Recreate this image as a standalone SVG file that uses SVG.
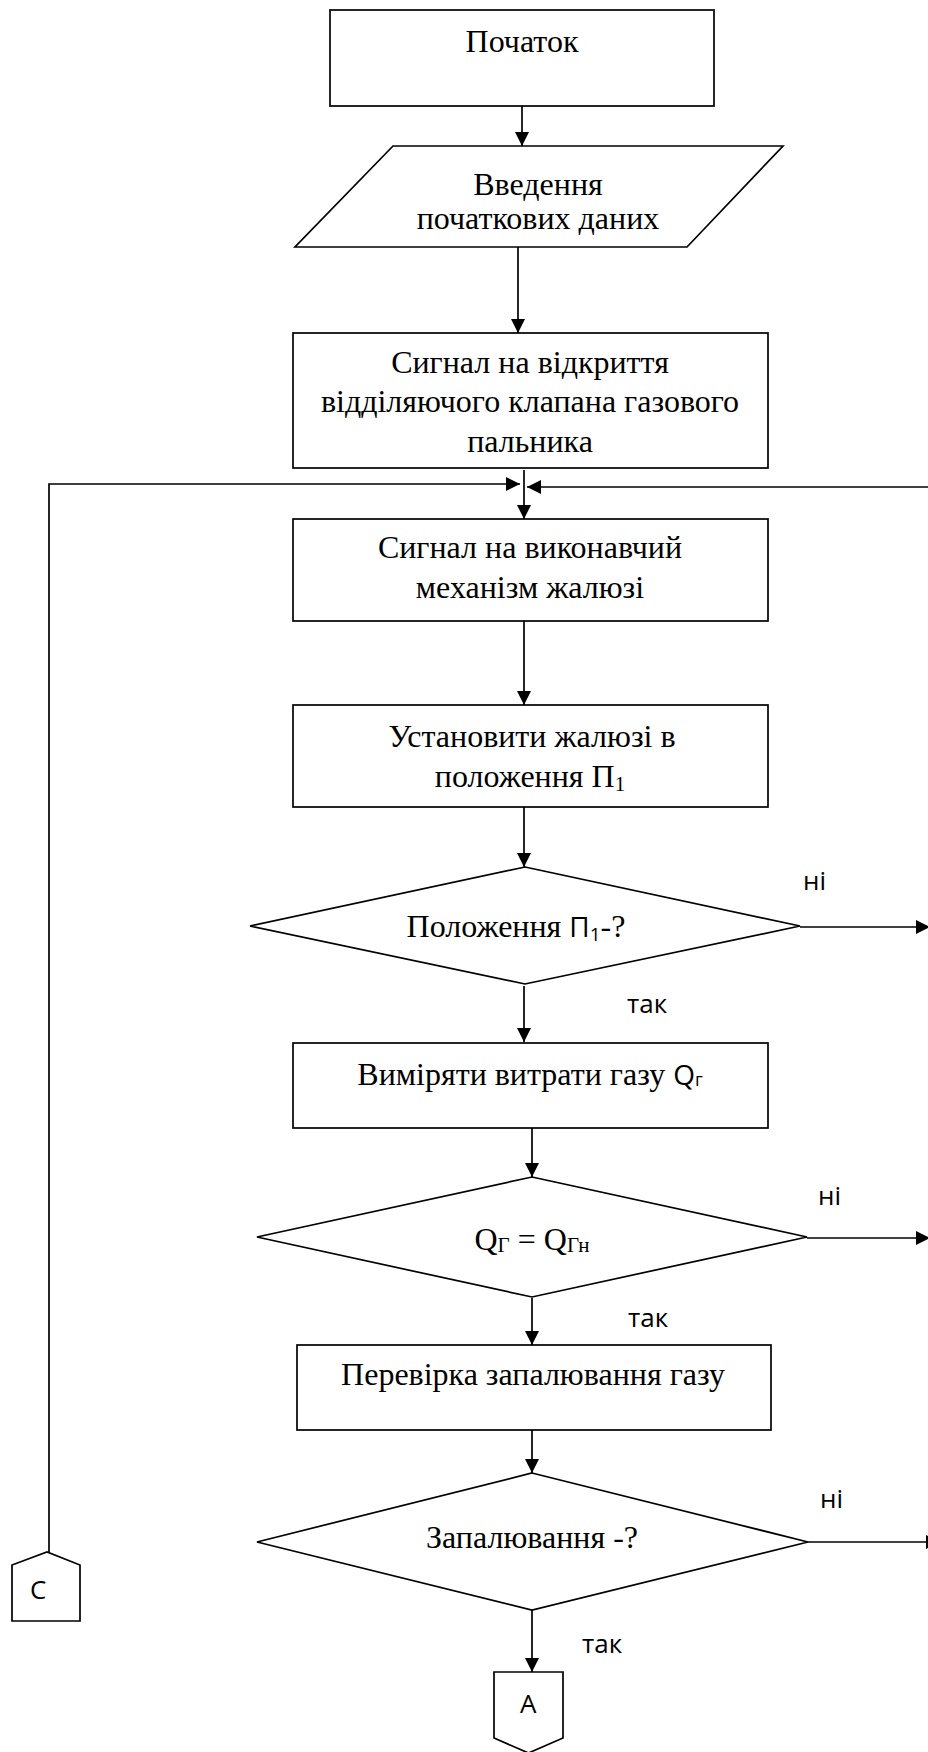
<svg xmlns="http://www.w3.org/2000/svg" width="928" height="1752" viewBox="0 0 928 1752">
  <style>
    .shape { fill: #fff; stroke: #000; stroke-width: 1.7; }
    .link { fill: none; stroke: #000; stroke-width: 1.7; }
    .t { font-family: "Liberation Serif", "Times New Roman", serif; font-size: 32px; fill: #000; text-anchor: middle; }
    .s { font-family: "Open Sans", "Noto Sans", sans-serif; font-size: 26px; fill: #000; }
    .ss { font-family: "Open Sans", "Noto Sans", sans-serif; }
  </style>
  <defs>
    <marker id="arrow" markerUnits="userSpaceOnUse" markerWidth="15" markerHeight="14" refX="14" refY="7" orient="auto">
      <path d="M0,0 L14,7 L0,14 z" fill="#000"/>
    </marker>
  </defs>
  <rect width="928" height="1752" fill="#fff"/>

  <!-- connectors -->
  <g id="connectors">
    <path class="link" d="M522,106 V146" marker-end="url(#arrow)"/>
    <path class="link" d="M518,247 V333" marker-end="url(#arrow)"/>
    <path class="link" d="M524,470 V519" marker-end="url(#arrow)"/>
    <path class="link" d="M49,1552 V484 H520" marker-end="url(#arrow)"/>
    <path class="link" d="M930,487 H527" marker-end="url(#arrow)"/>
    <path class="link" d="M524,621 V705" marker-end="url(#arrow)"/>
    <path class="link" d="M524,807 V867" marker-end="url(#arrow)"/>
    <path class="link" d="M524,986 V1042" marker-end="url(#arrow)"/>
    <path class="link" d="M800,927 H930" marker-end="url(#arrow)"/>
    <path class="link" d="M532,1128 V1177" marker-end="url(#arrow)"/>
    <path class="link" d="M532,1298 V1345" marker-end="url(#arrow)"/>
    <path class="link" d="M807,1238 H930" marker-end="url(#arrow)"/>
    <path class="link" d="M532,1430 V1473" marker-end="url(#arrow)"/>
    <path class="link" d="M532,1610 V1672" marker-end="url(#arrow)"/>
    <path class="link" d="M808,1542 H940" marker-end="url(#arrow)"/>
    <g class="s">
      <text x="803" y="890">ні</text>
      <text x="627" y="1013">так</text>
      <text x="818" y="1205">ні</text>
      <text x="628" y="1327">так</text>
      <text x="820" y="1508">ні</text>
      <text x="582" y="1653">так</text>
    </g>
  </g>

  <g id="start">
    <rect class="shape" x="330" y="10" width="384" height="96"/>
    <text class="t" x="522" y="52">Початок</text>
  </g>

  <g id="input">
    <polygon class="shape" points="393,146 783,146 687,247 295,247"/>
    <text class="t" x="538" y="195" font-size="30">Введення</text>
    <text class="t" x="538" y="229" font-size="30">початкових даних</text>
  </g>

  <g id="open-valve">
    <rect class="shape" x="293" y="333" width="475" height="135"/>
    <text class="t" x="530" y="373">Сигнал на відкриття</text>
    <text class="t" x="530" y="412">відділяючого клапана газового</text>
    <text class="t" x="530" y="452">пальника</text>
  </g>

  <g id="actuator">
    <rect class="shape" x="293" y="519" width="475" height="102"/>
    <text class="t" x="530" y="558">Сигнал на виконавчий</text>
    <text class="t" x="530" y="598">механізм жалюзі</text>
  </g>

  <g id="set-position">
    <rect class="shape" x="293" y="705" width="475" height="102"/>
    <text class="t" x="532" y="747">Установити жалюзі в</text>
    <text class="t" x="530" y="787">положення П<tspan font-size="21" dy="4">1</tspan></text>
  </g>

  <g id="check-position">
    <polygon class="shape" points="525,867 800,926 525,984 250,926"/>
    <text class="t" x="516" y="937">Положення <tspan class="ss" font-size="28">П</tspan><tspan class="ss" font-size="19" dy="4">1</tspan><tspan dy="-4">-?</tspan></text>
  </g>

  <g id="measure-gas">
    <rect class="shape" x="293" y="1043" width="475" height="85"/>
    <text class="t" x="530" y="1085">Виміряти витрати газу <tspan class="ss" font-size="28">Q</tspan><tspan class="ss" font-size="18" dy="1">г</tspan></text>
  </g>

  <g id="check-flow">
    <polygon class="shape" points="532,1177 807,1237 532,1297 257,1237"/>
    <text class="t" x="532" y="1250">Q<tspan font-size="21" dy="2">Г</tspan><tspan dy="-2"> = Q</tspan><tspan font-size="21" dy="2">Гн</tspan></text>
  </g>

  <g id="ignition-check">
    <rect class="shape" x="297" y="1345" width="474" height="85"/>
    <text class="t" x="533" y="1385">Перевірка запалювання газу</text>
  </g>

  <g id="check-ignition">
    <polygon class="shape" points="532,1473 808,1542 532,1610 257,1542"/>
    <text class="t" x="532" y="1548">Запалювання -?</text>
  </g>

  <g id="connector-c">
    <polygon class="shape" points="12,1621 80,1621 80,1565 47,1552 12,1565"/>
    <text class="s" x="30" y="1599">C</text>
  </g>

  <g id="connector-a">
    <polygon class="shape" points="494,1672 563,1672 563,1738 528.5,1753 494,1738"/>
    <text class="s" x="520" y="1713">A</text>
  </g>
</svg>
